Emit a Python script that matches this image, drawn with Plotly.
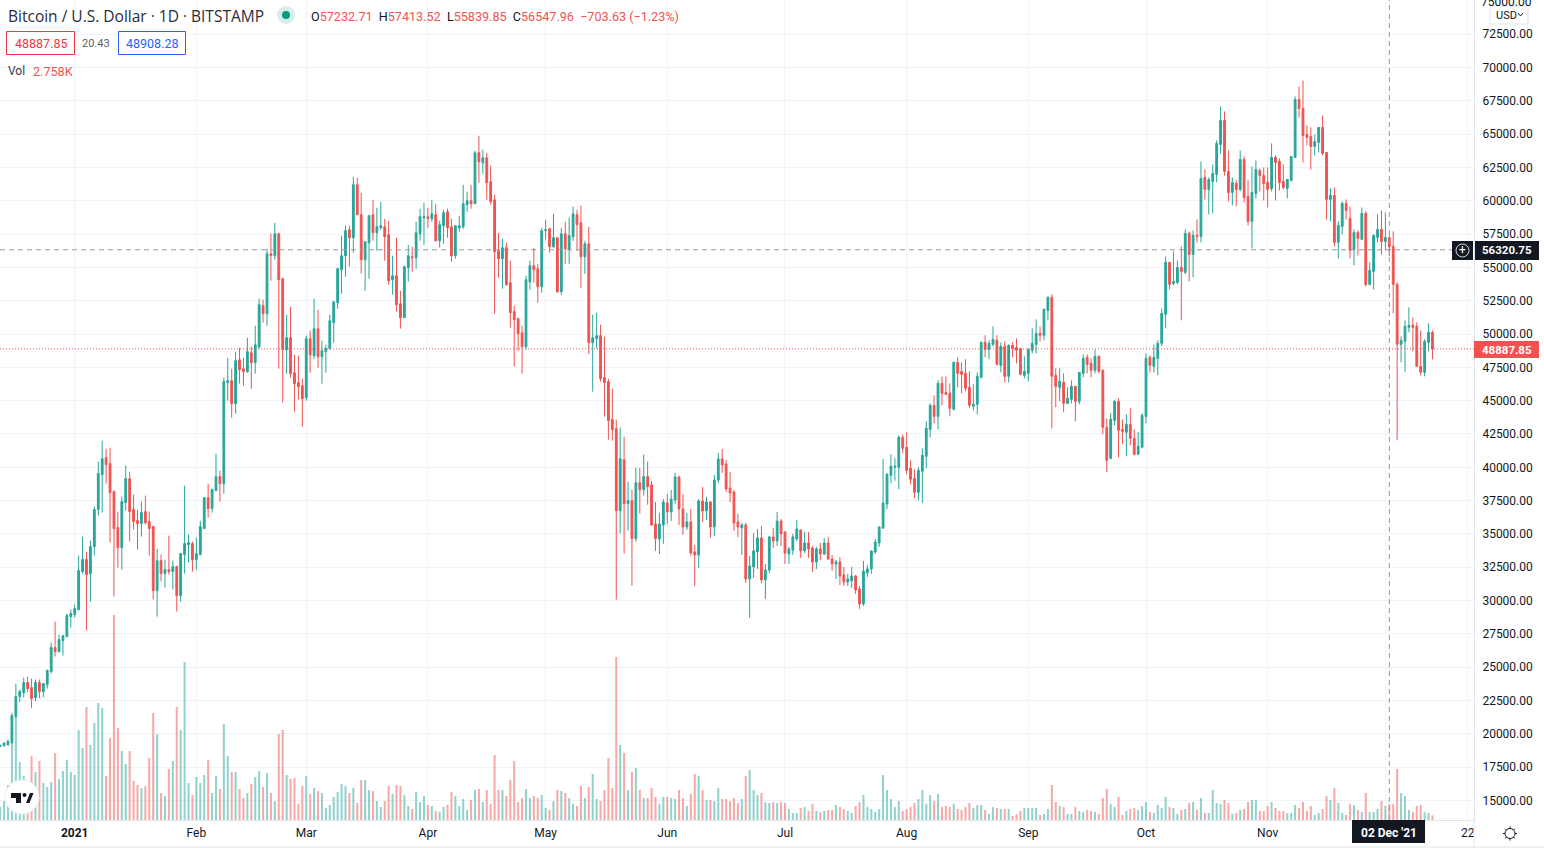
import math
import pandas as pd
import plotly.graph_objects as go

FIRST_DAY = "2020-12-13"

opens = [
 19050,19125,19200,19350,21300,22800,23100,23850,23475,22725,
 23850,23175,23700,24675,26475,26175,27000,27300,28800,28950,
 29325,32175,33075,32025,34050,36825,39450,40725,40275,38175,
 35475,33975,37350,39150,36825,36000,35775,36675,35925,35550,
 30750,33000,32025,32325,32175,32550,30375,33450,34200,34275,
 33075,33450,35400,37725,36900,38250,39300,38775,46350,46500,
 44775,48075,47400,47175,48600,47850,49050,52125,51525,56025,
 55875,57525,54150,48825,49725,47100,46350,46125,45225,49650,
 48375,50400,48300,48675,48900,50850,52350,54825,55875,57825,
 57225,61200,58950,55575,56850,58950,57600,57975,58050,57450,
 54075,54375,52275,51225,54975,55800,55725,57525,58725,58800,
 58650,58950,57000,58125,59175,58050,55875,57975,58050,59700,
 60000,59775,63600,62850,63225,61425,60075,56250,55650,56475,
 53850,51675,51150,50100,49050,53925,55125,54900,53550,57750,
 57900,56550,57225,53175,57525,56325,57300,58950,58350,55800,
 56775,49350,49650,49875,46725,46425,43575,42900,36750,40575,
 37275,37500,34650,38850,38325,39300,38675,35750,34625,35675,
 37325,36650,37550,39275,36875,35525,35900,33650,33425,37475,
 36725,37400,35525,39050,40625,40250,38450,38150,35900,35450,
 35675,31625,32525,33650,34700,31550,32300,34775,34475,35975,
 35150,33500,33800,34625,35300,33725,34325,33950,32900,33875,
 33500,34325,33125,32750,32900,31925,31400,31475,31850,30875,
 29750,32075,32375,33650,34325,35450,37250,39400,40000,40000,
 42250,41500,39925,39175,38125,39700,40825,42850,44650,43825,
 46300,45625,45550,44350,47875,47200,47050,46000,44575,44725,
 46750,49375,48850,49225,49525,47650,49075,46825,49150,49000,
 48925,46900,47050,48775,49225,50050,49900,51775,52750,46900,
 46000,46375,44800,45100,46075,44950,47050,48250,47800,47275,
 48325,47275,43000,40675,43525,44950,42850,42625,43225,42175,
 40975,41500,43825,48250,47575,48175,49300,51475,55375,53800,
 53875,55000,54625,57550,55975,57400,57325,61750,60850,61450,
 61975,64225,66025,62200,60625,61300,60850,63100,60325,58450,
 60550,62275,61900,61375,60925,63250,62950,61450,60925,61525,
 63250,67600,66925,64975,64825,64075,64375,65500,63625,60100,
 60400,56875,58075,59800,58675,56350,57625,57100,59050,53725,
 54700,57250,57850,56950,57232.71,56575,53725,49225,49450,50500,
 50650,50575,47575,47125,49375,50125]

closes = [
 19125,19300,19425,21375,22800,23175,23850,23400,22650,23850,
 23175,23775,24750,26475,26175,27075,27375,28875,29025,29400,
 32250,33075,31950,34050,36825,39525,40650,40200,38100,35400,
 33975,37425,39150,36675,35925,35775,36600,35850,35400,30750,
 33000,32025,32325,32175,32550,30375,33525,34275,34350,33075,
 33525,35550,37725,36900,38325,39300,38775,46425,46500,44775,
 48000,47325,47175,48675,47850,49200,52200,51525,56025,55875,
 57525,54075,48825,49725,47025,46275,46050,45150,49650,48450,
 50400,48300,48750,48900,51000,52425,54900,55875,57750,57225,
 61200,58950,55575,56925,58875,57600,58050,58125,57300,54000,
 54375,52200,51225,55050,55875,55725,57600,58800,58800,58650,
 59025,57000,58200,59100,57975,55875,58125,58125,59775,60000,
 59775,63600,62925,63225,61350,59925,56175,55650,56475,53700,
 51600,51075,50025,49050,54075,55125,54825,53550,57750,57825,
 56550,57225,53175,57525,56400,57375,59025,58200,55800,56775,
 49350,49725,49875,46650,46350,43500,42825,36750,40650,37275,
 37500,34650,38850,38325,39300,38550,35675,34650,35750,37400,
 36650,37625,39275,36875,35525,35900,33575,33425,37475,36725,
 37400,35525,39050,40625,40175,38375,38075,35825,35525,35675,
 31625,32600,33725,34700,31550,32300,34775,34475,35975,35000,
 33575,33875,34775,35375,33725,34325,33875,32900,33875,33500,
 34325,33125,32750,32900,31850,31400,31625,31850,30800,29750,
 32225,32375,33725,34400,35525,37325,39475,40075,40075,42250,
 41425,39775,39100,38125,39775,40900,42925,44650,43825,46300,
 45550,45475,44425,47875,47050,46975,45925,44650,44725,46825,
 49375,48850,49300,49600,47725,49075,46825,49150,48925,48775,
 46975,47200,48850,49300,50050,49900,51850,52750,46825,46075,
 46450,44800,45175,46075,44950,47125,48175,47725,47275,48325,
 47200,43000,40525,43600,44950,42775,42700,43225,42175,40975,
 41575,43900,48175,47650,48250,49300,51550,55375,53725,53950,
 55000,54700,57550,55975,57400,57325,61675,60850,61600,62050,
 64300,66025,62200,60625,61375,60850,63100,60250,58450,60625,
 62350,61900,61300,60850,63250,62875,61375,61000,61600,63325,
 67600,66925,64900,64750,64075,64450,65500,63550,60100,60400,
 56875,58150,59800,59275,56275,57625,57175,59050,53725,54775,
 57400,57850,56950,57250,56547.96,53725,49225,49525,50575,50650,
 50500,47575,47125,49450,50125,48887.85]

highs = [
 19200,19375,19575,21575,23775,23325,24225,24300,24150,24075,
 24075,23800,24825,26850,28425,27450,27400,29025,29325,29700,
 33375,34800,33675,34500,37050,40425,42000,41400,41475,38250,
 36675,37800,40125,39675,37950,36825,37425,37875,36675,35625,
 33900,33450,33075,34875,33000,32625,33550,38625,34950,34425,
 34725,36000,37750,38775,38400,41025,39750,46725,48225,47400,
 48675,48975,48225,49725,49050,50625,52650,52575,56400,57525,
 58350,57600,54225,51450,52050,48450,48375,46650,49875,50250,
 52650,51825,49500,49200,51450,52450,54975,57375,58125,58125,
 61800,61725,60600,56950,58950,60075,59475,59925,58650,58500,
 55875,57225,53250,55125,56700,56550,58425,59400,59850,59475,
 60075,59775,58500,59325,59400,58650,58130,58875,61200,60675,
 61200,63750,64875,63825,63600,62625,60450,57600,57150,56850,
 55500,52125,51225,50625,54375,55500,56475,55275,57975,58575,
 57975,59025,57250,57975,58425,58725,59550,59325,59625,57000,
 58050,51450,51600,50700,49800,46650,45900,43575,42975,42300,
 38925,38325,39975,39975,40950,40425,38975,37400,36575,37625,
 38000,38300,39575,39350,38000,36575,36875,34175,37625,38525,
 37775,37475,39425,41075,41375,40550,39650,38300,36500,35800,
 35825,33350,35075,35375,35600,32750,34850,35450,36650,36125,
 35200,34025,35000,36050,35325,35150,35150,34100,34025,34325,
 34700,34775,33425,33050,33275,32525,32000,32525,31925,31100,
 32975,32675,33750,34625,35550,40625,39575,40975,40675,42400,
 42475,42625,40525,39850,40000,41425,43450,44800,45400,46525,
 46825,46825,46300,47950,48250,47875,48100,47200,46225,47125,
 49450,49900,49525,50575,49900,49375,49450,49225,49375,49675,
 48950,48325,48925,50425,51100,50575,51925,52825,52975,47425,
 47425,47050,46000,46525,46100,47150,48475,48475,48175,48850,
 48400,47350,43675,44050,45025,45175,43600,43975,44425,42850,
 42625,44050,48550,48400,49225,49525,51925,55825,55400,56200,
 55525,56575,57850,57700,57775,58600,62950,62350,61750,62725,
 64525,67075,66700,63775,61750,61525,63775,63325,61525,62575,
 63025,62425,62500,62500,64300,63400,63175,62725,61625,63350,
 67825,68575,69025,65650,65500,64975,65525,66400,63650,60925,
 61000,58450,59950,60100,59575,57850,57775,59500,59200,55375,
 57475,58975,59275,59125,57413.52,57700,53875,49825,51025,52000,
 51250,50875,50275,49600,50800,50275]

lows = [
 19000,19025,19075,19275,21175,22375,22750,23125,21925,22450,
 22675,22750,23400,24525,25800,26100,25875,27250,27975,28725,
 29250,32025,27750,29925,33375,36375,36600,38775,34350,30300,
 32475,32325,36750,34425,35325,33825,34800,35700,33375,30075,
 28800,31425,30975,31950,30825,29175,29925,32025,32850,32175,
 32325,33400,35380,36225,36600,38225,37425,38025,45000,43725,
 44025,46275,46125,47100,45900,47025,48900,50850,50625,54000,
 55575,47400,44850,47025,46725,44175,45075,43050,45000,47100,
 48150,47475,46275,47100,48825,49350,51900,53025,54300,55050,
 56100,58925,54525,53250,54150,57000,56250,57825,55500,53700,
 52950,51675,50400,51200,53925,54675,54900,57000,56700,57975,
 58425,56925,56475,56775,57225,55425,55650,57675,57900,59175,
 59400,59750,61350,62025,60075,59700,51525,54225,53400,53625,
 50475,47550,48750,47025,48825,53325,53850,52350,53100,57075,
 56100,56475,53100,52950,55275,55275,57000,56250,53475,54525,
 48525,45675,48900,46425,43800,42075,42000,30075,35025,33525,
 35250,31125,34425,36525,37875,37200,35600,33725,33500,34250,
 35750,35975,37250,35675,34925,35300,33350,31100,32450,35900,
 36050,34700,34850,38825,39575,38150,37400,35225,34775,33425,
 31325,28700,31700,32375,31325,30125,32075,33950,34100,34100,
 32750,32750,33425,34475,33200,33575,33200,32150,32375,33050,
 33425,33050,32225,31625,31175,31100,31100,30950,30500,29375,
 29600,31775,32000,33500,34025,35375,36850,38800,39000,38350,
 41050,39475,38725,37675,37525,37325,39925,42250,43300,42850,
 44650,45400,43825,44275,46000,45550,45700,44425,44275,43975,
 46675,48250,48100,49075,47650,47125,46375,46375,48250,47800,
 46900,46675,46450,48550,48550,49450,49525,51025,42925,44500,
 44950,44125,44775,44800,43450,44725,46750,47050,46750,47050,
 47050,42475,39625,40600,43150,40750,41725,40825,41650,40900,
 40950,41425,43300,47125,47125,46900,49100,50425,53350,53650,
 53725,51025,54475,53950,54250,56875,56875,60100,58975,59050,
 61375,63550,61900,59950,59650,59575,60700,59875,58150,56425,
 60175,60700,60025,59500,60700,60025,60775,60850,60175,61450,
 63225,66250,62875,64150,62350,63400,63625,63400,58600,58450,
 56575,55675,57475,58600,55675,55150,55900,57050,53575,53650,
 53350,56875,55975,56275,55839.85,51550,42025,47875,47125,50125,
 48700,47550,46900,46825,48700,48100]

volumes = [
 8000,11400,21000,47400,61400,34800,26400,12000,38400,28800,
 35400,22200,19800,22800,40200,24600,29400,36000,28800,27000,
 54000,43200,67800,45000,58200,70200,67200,26400,49200,123000,
 55200,41400,33600,41400,23400,21000,19200,20400,37200,64200,
 51600,16200,14400,30600,35400,67800,54000,94800,22200,15000,
 25800,22200,27000,36000,16200,26400,18600,57600,38400,28800,
 28800,18600,13200,16200,21600,25800,29400,19800,28200,16200,
 11400,51600,54000,27000,24600,25200,9600,20400,26400,15600,
 19200,17400,16200,7200,9000,13800,16800,21600,20400,16200,
 19200,10200,24000,24000,18000,17400,11400,7800,11400,20400,
 15600,21000,20400,15000,8400,6600,16800,10800,14400,9000,
 8400,5400,4800,7800,9000,16800,14400,8400,12600,6000,
 12000,18000,18600,10800,18000,9600,39000,18000,18000,14400,
 24000,35400,10800,13200,18600,13200,14400,13200,15000,7200,
 6000,11400,18000,17400,16200,13200,9600,8400,20400,13200,
 19800,27600,12600,11400,18000,37200,19200,97800,45000,40200,
 18000,28800,31200,18000,13200,13200,19200,13800,9600,13800,
 13800,13200,12600,18000,13200,8400,15600,27600,26400,18000,
 12000,12000,11400,19200,12600,12600,11400,13200,10200,12600,
 26400,30000,18000,15000,16200,10800,10200,10800,10200,10800,
 10200,6600,4200,4200,7200,7800,5400,9600,5400,4800,
 5400,6000,6000,9000,7800,6600,5400,4200,8400,10800,
 15000,7800,6600,4800,6600,27000,18000,12600,7800,11400,
 5400,6600,7800,10200,12600,18000,9600,15000,11400,15600,
 7800,8400,7800,9600,6600,6000,7800,10200,7200,9000,
 9000,6000,3600,7800,7200,6600,6600,6600,2400,3600,
 5400,7200,7200,7200,7200,3000,3600,6600,21000,10800,
 8400,7800,3600,3600,7800,5400,4800,6000,5400,4800,
 3600,13200,18600,9600,7800,13800,3000,5400,6600,7200,
 6000,8400,10800,4800,4200,9000,7200,13800,7800,7200,
 3600,6000,6600,10200,10800,6000,13200,4200,4200,18000,
 10200,9600,12000,10200,3600,4200,6000,6600,10800,12000,
 12000,5400,5400,8400,10800,7200,5400,5400,4200,4200,
 9000,7200,10800,5400,8400,3000,4200,6600,14400,12000,
 19200,10200,4200,3000,9600,9000,6000,4800,16200,4800,
 4800,6600,11400,8400,9600,9600,30600,16200,14400,6000,
 4800,8400,9000,4800,4200,2758]

month_ticks = ["2021-01-01","2021-02-01","2021-03-01","2021-04-01","2021-05-01","2021-06-01",
               "2021-07-01","2021-08-01","2021-09-01","2021-10-01","2021-11-01","2021-12-01","2021-12-22"]
month_labels = ["<b>2021</b>","Feb","Mar","Apr","May","Jun","Jul","Aug","Sep","Oct","Nov"," ","22"]

assert len(opens) == len(closes) == len(highs) == len(lows) == len(volumes) == 366
dates = pd.date_range(FIRST_DAY, periods=len(opens), freq="D")

UP, DOWN = "#26a69a", "#ef5350"
INK, GRID, EDGE, CROSS = "#131722", "#f0f3fa", "#e0e3eb", "#9598a1"
FONT = "Roboto"
W, H, PW, PH = 1544, 848, 1474, 820
px = lambda x: x / PW
py = lambda y: 1 - y / PH

fig = go.Figure()
fig.add_trace(go.Bar(
    x=dates, y=volumes, yaxis="y", hoverinfo="skip",
    marker=dict(color=["rgba(38,166,154,0.5)" if c >= o else "rgba(239,83,80,0.5)"
                       for o, c in zip(opens, closes)], line_width=0)))
fig.add_trace(go.Candlestick(
    x=dates, open=opens, high=highs, low=lows, close=closes, yaxis="y2", hoverinfo="skip",
    whiskerwidth=0,
    increasing=dict(line=dict(color=UP, width=1), fillcolor=UP),
    decreasing=dict(line=dict(color=DOWN, width=1), fillcolor=DOWN)))

shapes, annos = [], []
def rect(x0, y0, x1, y1, fill, line=None, kind="rect", lw=1):
    shapes.append(dict(type=kind, xref="paper", yref="paper", x0=px(x0), x1=px(x1), y0=py(y0), y1=py(y1),
                       fillcolor=fill, line=dict(color=line or fill, width=lw if line else 0), layer="above"))
def hline(x0, y0, x1, y1, color, width=1):
    shapes.append(dict(type="line", xref="paper", yref="paper", x0=px(x0), x1=px(x1), y0=py(y0), y1=py(y1),
                       line=dict(color=color, width=width), layer="above"))
def label(x, y, text, size=12, color=INK, anchor="left", family=FONT):
    annos.append(dict(xref="paper", yref="paper", x=px(x), y=py(y), text=text, showarrow=False,
                      xanchor=anchor, yanchor="middle", borderpad=0,
                      font=dict(family=family, size=size, color=color)))
def path(points_list, fill=None, color=INK, width=0):
    d = ""
    for pts in points_list:
        d += "M" + " L".join(f"{px(a):.5f},{py(b):.5f}" for a, b in pts) + (" Z " if fill else " ")
    shapes.append(dict(type="path", xref="paper", yref="paper", path=d, fillcolor=fill or "rgba(0,0,0,0)",
                       line=dict(color=color, width=width), layer="above"))

# crosshair and last-price lines
shapes.append(dict(type="line", xref="paper", yref="y2", x0=0, x1=px(1452), y0=56320.75, y1=56320.75,
                   line=dict(color=CROSS, width=1, dash="5px,4px"), layer="above"))
shapes.append(dict(type="line", xref="x", yref="paper", x0="2021-12-02", x1="2021-12-02", y0=0, y1=1,
                   line=dict(color=CROSS, width=1, dash="5px,4px"), layer="above"))
shapes.append(dict(type="line", xref="paper", yref="y2", x0=0, x1=1, y0=48887.85, y1=48887.85,
                   line=dict(color=DOWN, width=1, dash="1px,2px"), layer="above"))

# frame
hline(0, 847, W, 847, EDGE)
hline(PW, 820, PW, 848, EDGE)

# top price label, cut by the window edge
label(1533, 1.5, "75000.00", 12, INK, "right")

# price labels
rect(1475, 241, 1539, 260, INK)
label(1533, 250.5, "<b>56320.75</b>", 11.5, "#ffffff", "right")
rect(1452, 241, 1473, 260, INK)
rect(1456, 244, 1469, 257, INK, "#d1d4dc", "circle")
label(1462.5, 250, "+", 12, "#ffffff", "center")
rect(PW, 341, 1539, 358, DOWN)
label(1533, 349.5, "<b>48887.85</b>", 11.5, "#ffffff", "right")
rect(1352, 820, 1425, 843, INK)
label(1388.5, 833, "<b>02 Dec '21</b>", 12, "#ffffff", "center")

# USD chip
rect(1490, 6, 1528, 24, "#ffffff", EDGE)
label(1495, 15, "USD", 11, INK)
path([[(1518, 13), (1520.5, 16), (1523, 13)]], color=INK, width=1)

# header
label(7, 15.5, "Bitcoin / U.S. Dollar · 1D · BITSTAMP", 15.5, "#2a2e39", family="Open Sans")
rect(277, 6, 295, 24, "#d7eeeb", None, "circle")
rect(282, 11, 290, 19, "#089981", None, "circle")
label(310, 16.5,
      f'O<span style="color:{DOWN}">57232.71</span>  H<span style="color:{DOWN}">57413.52</span>  '
      f'L<span style="color:{DOWN}">55839.85</span>  C<span style="color:{DOWN}">56547.96</span>  '
      f'<span style="color:{DOWN}">−703.63 (−1.23%)</span>', 12.6, INK)
rect(6.5, 31.5, 74.5, 54.5, "#ffffff", "#f23645")
label(40.5, 43.5, "48887.85", 12.5, "#f23645", "center")
label(96, 43.5, "20.43", 11, "#5d606b", "center")
rect(118.5, 31.5, 185.5, 54.5, "#ffffff", "#2962ff")
label(152, 43.5, "48908.28", 12.5, "#2962ff", "center")
label(7, 71.5, "Vol", 12, "#363a45")
label(32, 71.5, "2.758K", 12.6, DOWN)

# TradingView badge
rect(5, 780, 39, 814, "#ffffff", "#eceef3", "circle")
path([[(11, 793), (21, 793), (21, 803), (16, 803), (16, 798), (11, 798)],
      [(26, 803), (30, 793), (33.5, 793), (29.5, 803)]], fill=INK, color=INK)
rect(22.5, 793, 26.5, 797, INK, None, "circle")

# settings gear
cx, cy = 1510, 833.5
rect(cx - 5, cy - 5, cx + 5, cy + 5, "#ffffff", INK, "circle")
path([[(cx + 5 * math.cos(a * math.pi / 4), cy + 5 * math.sin(a * math.pi / 4)),
       (cx + 7 * math.cos(a * math.pi / 4), cy + 7 * math.sin(a * math.pi / 4))] for a in range(8)],
     color=INK, width=1)

fig.update_layout(
    width=W, height=H, margin=dict(l=0, r=W - PW, t=0, b=H - PH),
    paper_bgcolor="#ffffff", plot_bgcolor="#ffffff", showlegend=False, bargap=0.48, boxgap=0.35,
    font=dict(family=FONT, size=12, color=INK), hovermode=False,
    xaxis=dict(type="date", range=["2020-12-12 23:00", "2021-12-23 14:00"], rangeslider=dict(visible=False),
               tickmode="array", tickvals=month_ticks, ticktext=month_labels,
               showgrid=True, gridcolor=GRID, gridwidth=1, zeroline=False,
               showline=True, linecolor=EDGE, linewidth=1, ticks="outside", ticklen=2, tickcolor="#ffffff",
               tickfont=dict(family=FONT, size=12, color=INK)),
    yaxis=dict(range=[0, 492000], visible=False, showgrid=False),
    yaxis2=dict(overlaying="y", side="right", range=[13537, 75063], tick0=0, dtick=2500,
                tickformat=".2f", showgrid=True, gridcolor=GRID, gridwidth=1, zeroline=False,
                showline=True, linecolor=EDGE, linewidth=1, ticks="outside", ticklen=5, tickcolor="#ffffff",
                tickfont=dict(family=FONT, size=12, color=INK)),
    shapes=shapes, annotations=annos)

fig.write_html("out.html", config={"displayModeBar": False},
               post_script="document.body.style.margin='0';document.body.style.overflow='hidden';")
